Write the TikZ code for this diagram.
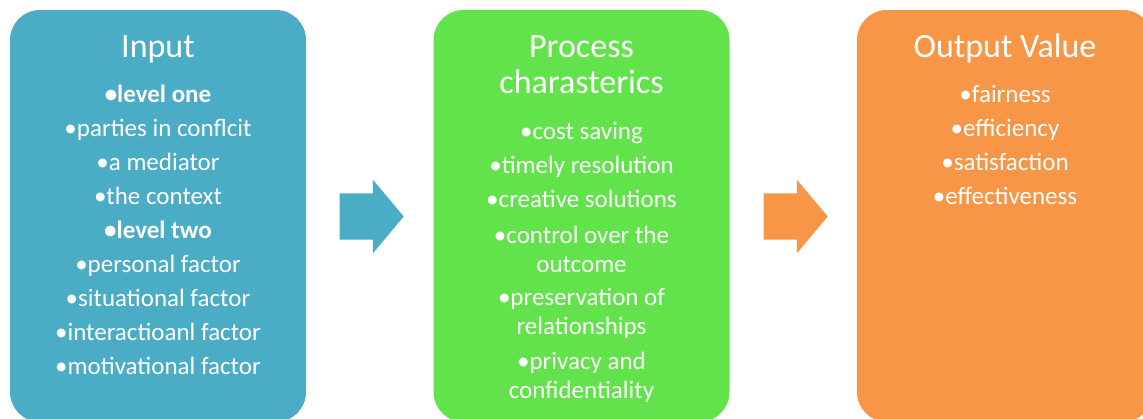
\documentclass[tikz,border=0pt]{standalone}
\usepackage{fontspec}
\setmainfont{Carlito}
\usetikzlibrary{positioning,shapes.arrows}
\definecolor{inputblue}{HTML}{4BACC6}
\definecolor{processgreen}{HTML}{62E34B}
\definecolor{outputorange}{HTML}{F79646}
\tikzset{
    stagebox/.style={ % the three rounded stages
        rounded corners=30pt,
        minimum width=296pt,
        minimum height=412pt,
        inner sep=0pt
    },
    flowarrow/.style={ % requires library shapes.arrows
        single arrow,
        minimum height=64pt,
        single arrow head extend=13.5pt,
        single arrow tip angle=100,
        inner xsep=0pt,
        inner ysep=23pt
    },
    titletext/.style={
        anchor=base,
        text=white,
        font=\fontsize{34}{36}\selectfont
    },
    itemtext/.style={
        anchor=base,
        text=white,
        inner sep=0pt,
        font=\fontsize{25}{29}\selectfont
    }
}

\begin{document}
\begin{tikzpicture}[x=1pt,y=-1pt]
        \useasboundingbox (0,0) rectangle (1143,418);
        \node[stagebox,fill=inputblue] (input) at (158,216) {};
        \node[stagebox,fill=processgreen] (process) at (581.5,216) {};
        \node[stagebox,fill=outputorange] (output) at (1005,216) {};

        \node[flowarrow,fill=inputblue] (arrowA) at (362,216.5) {};
        \node[flowarrow,fill=outputorange] (arrowB) at (786,216.5) {};

        % titles
        \node[titletext] (inputtitle) at (158,57) {Input};
        \node[titletext] (processtitle) at (581.5,57) {Process};
        \node[titletext] (processtitleb) at (581.5,93) {charasterics};
        \node[titletext] (outputtitle) at (1005,57) {Output Value};

        % items
        \foreach \y/\txt in {102/\textbf{•level one}, 136/•parties in conflcit, 170/•a mediator,
                204/•the context, 238/\textbf{•level two}, 272/•personal factor,
                306/•situational factor, 340/•interactioanl factor, 374/•motivational factor}
            \node[itemtext] (in-\y) at (158,\y) {\txt};
        \foreach \y/\txt in {139/•cost saving, 173/•timely resolution, 207/•creative solutions,
                243/•control over the, 272/outcome, 305/•preservation of, 334/relationships,
                369/•privacy and, 398/confidentiality}
            \node[itemtext] (pr-\y) at (581.5,\y) {\txt};
        \foreach \y/\txt in {102/•fairness, 136/•efficiency, 170/•satisfaction, 204/•effectiveness}
            \node[itemtext] (out-\y) at (1005,\y) {\txt};
\end{tikzpicture}
\end{document}
